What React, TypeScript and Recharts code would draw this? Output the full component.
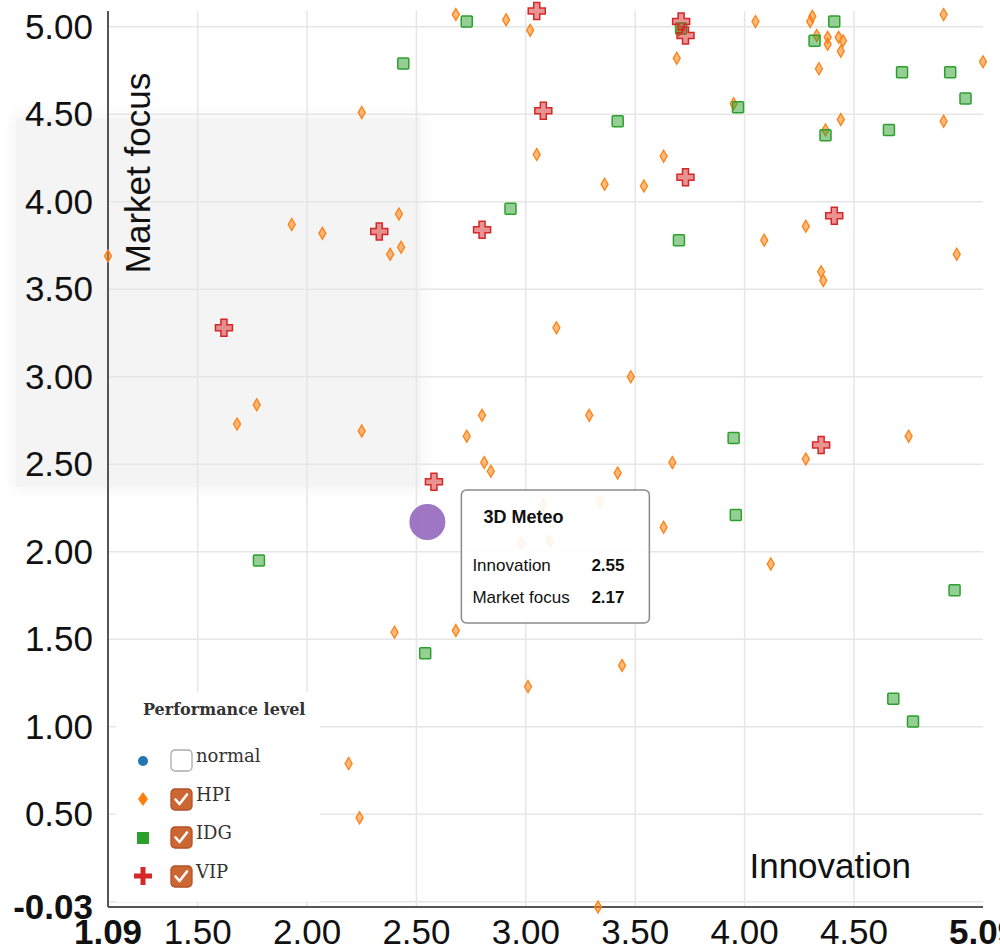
import React from 'react'
import { ScatterChart, Scatter, XAxis, YAxis, CartesianGrid } from 'recharts'

// Innovation (x) vs Market focus (y)
const hpiPoints = [
  { x: 1.09, y: 3.69 }, { x: 1.93, y: 3.87 }, { x: 2.07, y: 3.82 }, { x: 2.25, y: 4.51 },
  { x: 2.38, y: 3.7 }, { x: 2.42, y: 3.93 }, { x: 2.43, y: 3.74 }, { x: 2.68, y: 5.07 },
  { x: 2.91, y: 5.04 }, { x: 3.02, y: 4.98 }, { x: 3.69, y: 4.82 }, { x: 3.7, y: 4.98 },
  { x: 4.05, y: 5.03 }, { x: 4.31, y: 5.06 }, { x: 4.3, y: 5.03 }, { x: 4.33, y: 4.95 },
  { x: 4.38, y: 4.94 }, { x: 4.38, y: 4.9 }, { x: 4.43, y: 4.94 }, { x: 4.45, y: 4.92 },
  { x: 4.44, y: 4.86 }, { x: 4.34, y: 4.76 }, { x: 4.91, y: 5.07 }, { x: 5.09, y: 4.8 },
  { x: 3.95, y: 4.56 }, { x: 4.44, y: 4.47 }, { x: 4.37, y: 4.41 }, { x: 4.91, y: 4.46 },
  { x: 3.05, y: 4.27 }, { x: 3.63, y: 4.26 }, { x: 3.36, y: 4.1 }, { x: 3.54, y: 4.09 },
  { x: 4.28, y: 3.86 }, { x: 4.09, y: 3.78 }, { x: 4.35, y: 3.6 }, { x: 4.36, y: 3.55 },
  { x: 4.97, y: 3.7 }, { x: 1.77, y: 2.84 }, { x: 1.68, y: 2.73 }, { x: 2.25, y: 2.69 },
  { x: 2.8, y: 2.78 }, { x: 2.73, y: 2.66 }, { x: 2.81, y: 2.51 }, { x: 2.84, y: 2.46 },
  { x: 3.08, y: 2.27 }, { x: 3.34, y: 2.29 }, { x: 2.98, y: 2.05 }, { x: 3.11, y: 2.06 },
  { x: 3.14, y: 3.28 }, { x: 3.48, y: 3.0 }, { x: 3.29, y: 2.78 }, { x: 3.67, y: 2.51 },
  { x: 3.42, y: 2.45 }, { x: 3.63, y: 2.14 }, { x: 4.28, y: 2.53 }, { x: 4.75, y: 2.66 },
  { x: 4.12, y: 1.93 }, { x: 2.4, y: 1.54 }, { x: 2.68, y: 1.55 }, { x: 3.01, y: 1.23 },
  { x: 2.19, y: 0.79 }, { x: 2.24, y: 0.48 }, { x: 3.44, y: 1.35 }, { x: 3.33, y: -0.03 },
]

const idgPoints = [
  { x: 2.44, y: 4.79 }, { x: 2.73, y: 5.03 }, { x: 4.41, y: 5.03 }, { x: 4.32, y: 4.92 },
  { x: 3.71, y: 4.99 }, { x: 4.72, y: 4.74 }, { x: 4.94, y: 4.74 }, { x: 5.01, y: 4.59 },
  { x: 3.97, y: 4.54 }, { x: 3.42, y: 4.46 }, { x: 4.37, y: 4.38 }, { x: 4.66, y: 4.41 },
  { x: 2.93, y: 3.96 }, { x: 3.7, y: 3.78 }, { x: 1.78, y: 1.95 }, { x: 3.95, y: 2.65 },
  { x: 3.96, y: 2.21 }, { x: 4.96, y: 1.78 }, { x: 2.54, y: 1.42 }, { x: 4.68, y: 1.16 },
  { x: 4.77, y: 1.03 },
]

const vipPoints = [
  { x: 3.05, y: 5.09 }, { x: 3.71, y: 5.03 }, { x: 3.73, y: 4.95 }, { x: 3.08, y: 4.52 },
  { x: 3.73, y: 4.14 }, { x: 4.41, y: 3.92 }, { x: 2.33, y: 3.83 }, { x: 2.8, y: 3.84 },
  { x: 1.62, y: 3.28 }, { x: 2.58, y: 2.4 }, { x: 4.35, y: 2.61 },
]

const hovered = [{ x: 2.55, y: 2.17, name: '3D Meteo' }]

const xDomain = [1.09, 5.09]
const yDomain = [-0.03, 5.09]
const xTicks = [1.09, 1.5, 2, 2.5, 3, 3.5, 4, 4.5, 5.09]
const yTicks = [-0.03, 0.5, 1, 1.5, 2, 2.5, 3, 3.5, 4, 4.5, 5]
const xGrid = [1.5, 2, 2.5, 3, 3.5, 4, 4.5]
const yGrid = [0, 0.5, 1, 1.5, 2, 2.5, 3, 3.5, 4, 4.5, 5]

const legendItems = [
  { label: 'normal', color: '#1f77b4', checked: false, kind: 'circle' },
  { label: 'HPI', color: '#ff7f0e', checked: true, kind: 'diamond' },
  { label: 'IDG', color: '#2ca02c', checked: true, kind: 'square' },
  { label: 'VIP', color: '#d62728', checked: true, kind: 'cross' },
]

const SANS = '"Liberation Sans", Arial, sans-serif'
const SERIF = '"DejaVu Serif", serif'

const isEdge = (v: number, d: number[]) => v === d[0] || v === d[1]

const XTick = ({ x, y, payload }: any) => (
  <text x={x} y={y + 37} textAnchor="middle" fontSize={35} fontFamily={SANS}
    fontWeight={isEdge(payload.value, xDomain) ? 700 : 400} fill="#111">
    {payload.value.toFixed(2)}
  </text>
)

const YTick = ({ x, y, payload }: any) => (
  <text x={x - 15} y={y + 12} textAnchor="end" fontSize={35} fontFamily={SANS}
    fontWeight={isEdge(payload.value, yDomain) ? 700 : 400} fill="#111">
    {payload.value.toFixed(2)}
  </text>
)

const Diamond = ({ cx, cy }: any) => (
  <path d={`M${cx},${cy - 6}L${cx + 3.5},${cy}L${cx},${cy + 6}L${cx - 3.5},${cy}Z`}
    fill="#ff7f0e" fillOpacity={0.55} stroke="#ff7f0e" strokeWidth={1.3} />
)

const Square = ({ cx, cy }: any) => (
  <rect x={cx - 5.5} y={cy - 5.5} width={11} height={11} rx={1}
    fill="#2ca02c" fillOpacity={0.5} stroke="#2ca02c" strokeWidth={1.5} />
)

const crossPath = (cx: number, cy: number, s: number, a: number) =>
  `M${cx - a},${cy - s}H${cx + a}V${cy - a}H${cx + s}V${cy + a}H${cx + a}V${cy + s}H${cx - a}V${cy + a}H${cx - s}V${cy - a}H${cx - a}Z`

const Cross = ({ cx, cy }: any) => (
  <path d={crossPath(cx, cy, 8.5, 3)} fill="#d62728" fillOpacity={0.5}
    stroke="#d62728" strokeWidth={1.5} />
)

const Hovered = ({ cx, cy, payload }: any) => (
  <g>
    <circle cx={cx} cy={cy} r={18} fill="#9467bd" fillOpacity={0.9} />
    <rect x={cx + 34} y={cy - 32} width={188} height={133} rx={5}
      fill="#fff" fillOpacity={0.9} stroke="#8a8a8a" strokeWidth={1.5} />
    <g fontFamily={SANS} fill="#111">
      <text x={cx + 56} y={cy + 1} fontSize={18} fontWeight={700}>{payload.name}</text>
      <text x={cx + 45} y={cy + 49} fontSize={17}>Innovation</text>
      <text x={cx + 164} y={cy + 49} fontSize={17} fontWeight={700}>{payload.x.toFixed(2)}</text>
      <text x={cx + 45} y={cy + 81} fontSize={17}>Market focus</text>
      <text x={cx + 164} y={cy + 81} fontSize={17} fontWeight={700}>{payload.y.toFixed(2)}</text>
    </g>
  </g>
)

const Marker = ({ kind, color }: any) => (
  <svg width={20} height={20} viewBox="-10 -10 20 20">
    {kind === 'circle' && <circle r={5} fill={color} />}
    {kind === 'diamond' && <path d="M0,-7L5,0L0,7L-5,0Z" fill={color} />}
    {kind === 'square' && <rect x={-6} y={-6} width={12} height={12} fill={color} />}
    {kind === 'cross' && <path d={crossPath(0, 0, 9, 2.5)} fill={color} />}
  </svg>
)

const Checkbox = ({ checked }: { checked: boolean }) => (
  <svg width={23} height={23} viewBox="0 0 23 23">
    <rect x={1} y={1} width={21} height={21} rx={4}
      fill={checked ? '#cc6633' : '#fff'} stroke={checked ? '#b2522a' : '#aaa'} strokeWidth={1.3} />
    {checked && <path d="M5.5,11.5L9.5,16L17,6.5" fill="none" stroke="#fff" strokeWidth={2.6}
      strokeLinecap="round" strokeLinejoin="round" />}
  </svg>
)

const PerfLegend = () => (
  <div style={{ position: 'absolute', left: 116, top: 692, width: 204, height: 210,
    background: '#fff', fontFamily: SERIF, color: '#333' }}>
    <div style={{ position: 'absolute', left: 27, top: 8, fontSize: 16, fontWeight: 700, whiteSpace: 'nowrap' }}>
      Performance level
    </div>
    {legendItems.map((it, i) => (
      <div key={it.label} style={{ position: 'absolute', left: 17, top: 57 + i * 38.5, height: 23,
        display: 'flex', alignItems: 'center' }}>
        <Marker kind={it.kind} color={it.color} />
        <div style={{ marginLeft: 17, display: 'flex', alignItems: 'flex-start' }}>
          <Checkbox checked={it.checked} />
          <span style={{ fontSize: 18, lineHeight: '18px', marginLeft: 3, marginTop: -2 }}>{it.label}</span>
        </div>
      </div>
    ))}
  </div>
)

export default function App() {
  return (
    <div style={{ position: 'absolute', left: 0, top: 0, width: 1000, height: 951, overflow: 'hidden',
      background: '#fff', fontFamily: SANS }}>
      {/* grey highlight band behind the plot */}
      <div style={{ position: 'absolute', left: 16, top: 118, width: 404, height: 369,
        background: '#f4f4f4', boxShadow: '0 0 14px 4px #f6f6f6' }} />
      <div style={{ position: 'absolute', left: 0, top: 0 }}>
        <ScatterChart width={1000} height={951} margin={{ top: 11, right: 17, bottom: 43, left: 107 }}>
          <CartesianGrid stroke="#e6e6e6" strokeWidth={1.5} horizontalValues={yGrid} verticalValues={xGrid} />
          <XAxis type="number" dataKey="x" domain={xDomain} ticks={xTicks} interval={0} height={1}
            tickLine={false} tickSize={0} tickMargin={0} tick={<XTick />}
            axisLine={{ stroke: '#555', strokeWidth: 2 }}
            label={{ content: ({ viewBox }: any) => (
              <text x={viewBox.x + viewBox.width - 72} y={viewBox.y - 29} textAnchor="end"
                fontSize={35} fontFamily={SANS} fill="#111">Innovation</text>
            ) }} />
          <YAxis type="number" dataKey="y" domain={yDomain} ticks={yTicks} interval={0} width={1}
            tickLine={false} tickSize={0} tickMargin={0} tick={<YTick />}
            axisLine={{ stroke: '#555', strokeWidth: 2 }}
            label={{ content: ({ viewBox }: any) => {
              const lx = viewBox.x + viewBox.width + 42
              const ly = viewBox.y + 162
              return (
                <text x={lx} y={ly} textAnchor="middle" transform={`rotate(-90, ${lx}, ${ly})`}
                  fontSize={35} fontFamily={SANS} fill="#111">Market focus</text>
              )
            } }} />
          <Scatter name="HPI" data={hpiPoints} shape={<Diamond />} isAnimationActive={false} />
          <Scatter name="IDG" data={idgPoints} shape={<Square />} isAnimationActive={false} />
          <Scatter name="VIP" data={vipPoints} shape={<Cross />} isAnimationActive={false} />
          <Scatter name="hovered" data={hovered} shape={<Hovered />} isAnimationActive={false} />
        </ScatterChart>
      </div>
      <PerfLegend />
    </div>
  )
}
